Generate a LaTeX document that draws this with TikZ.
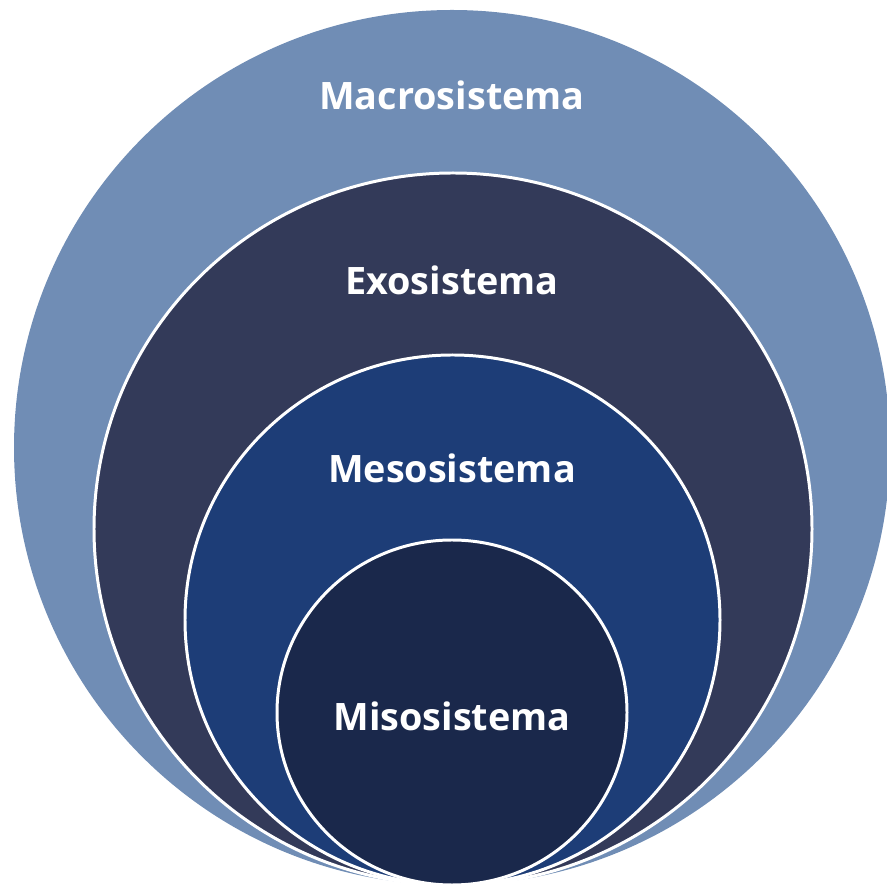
\documentclass[tikz,border=0pt]{standalone}
\usepackage{fontspec}
\setmainfont{Open Sans}
\usepackage{tikz}
\definecolor{macrocol}{RGB}{112,141,181}
\definecolor{exocol}{RGB}{51,58,89}
\definecolor{mesocol}{RGB}{29,61,119}
\definecolor{misocol}{RGB}{26,40,75}

\begin{document}
\begin{tikzpicture}[x=0.02cm, y=0.02cm,
    ring/.style={draw=white, line width=1.7pt},
    lbl/.style={text=white, font=\bfseries\fontsize{21.5}{24}\selectfont}]
    \useasboundingbox (0,0) rectangle (886,889);
    \fill[macrocol] (452,441.5) circle[x radius=438, y radius=437.5];
    \filldraw[exocol, ring] (453,360) circle[x radius=359, y radius=356];
    \filldraw[mesocol, ring] (452.5,269) circle[x radius=267.5, y radius=265];
    \filldraw[misocol, ring] (452,176.5) circle[x radius=175, y radius=172.5];
    \node[lbl] (macro) at (452,794) {Macrosistema};
    \node[lbl] (exo) at (452,609) {Exosistema};
    \node[lbl] (meso) at (452,421) {Mesosistema};
    \node[lbl] (miso) at (452,173) {Misosistema};
\end{tikzpicture}
\end{document}
